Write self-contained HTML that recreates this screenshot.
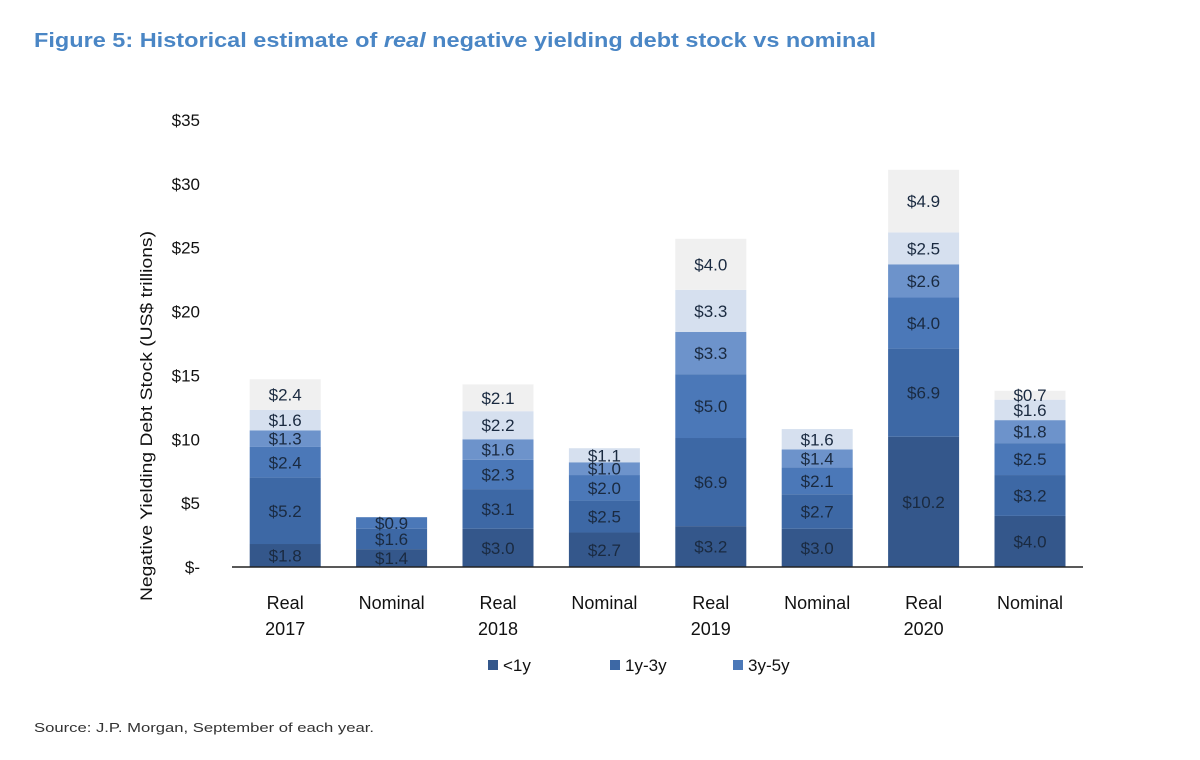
<!DOCTYPE html>
<html><head><meta charset="utf-8"><style>
body{margin:0;background:#fff;font-family:"Liberation Sans",Arial,sans-serif}
#wrap{position:relative;width:1200px;height:760px;overflow:hidden}
</style></head><body>
<div id="wrap">
<svg id="chart" width="1200" height="760">
<text x="34" y="47" font-size="20" font-weight="bold" fill="#4a86c5" textLength="842" lengthAdjust="spacingAndGlyphs">Figure 5: Historical estimate of <tspan font-style="italic">real</tspan> negative yielding debt stock vs nominal</text>
<text x="34" y="732" font-size="13" fill="#333" textLength="340" lengthAdjust="spacingAndGlyphs">Source: J.P. Morgan, September of each year.</text>
<text transform="translate(152,416) rotate(-90)" text-anchor="middle" font-size="17" fill="#111" textLength="370" lengthAdjust="spacingAndGlyphs">Negative Yielding Debt Stock (US$ trillions)</text>
<g id="plot"></g>
</svg>
</div>
<script>
const categories=[["Real","2017"],["Nominal",""],["Real","2018"],["Nominal",""],["Real","2019"],["Nominal",""],["Real","2020"],["Nominal",""]];
const seriesNames=["<1y","1y-3y","3y-5y","5y-7y","7y-10y","10y+"];
const s_lt1=[1.8,1.4,3.0,2.7,3.2,3.0,10.2,4.0];
const s_1to3=[5.2,1.6,3.1,2.5,6.9,2.7,6.9,3.2];
const s_3to5=[2.4,0.9,2.3,2.0,5.0,2.1,4.0,2.5];
const s_5to7=[1.3,0,1.6,1.0,3.3,1.4,2.6,1.8];
const s_7to10=[1.6,0,2.2,1.1,3.3,1.6,2.5,1.6];
const s_10p=[2.4,0,2.1,0,4.0,0,4.9,0.7];
const yTicks=[0,5,10,15,20,25,30,35];
const yTickLabels=["$-","$5","$10","$15","$20","$25","$30","$35"];
const series=[s_lt1,s_1to3,s_3to5,s_5to7,s_7to10,s_10p];
const colors=["#34578b","#3d68a5","#4b78b8","#6d93cb","#d6e0ef","#f0f0f0"];
const NS="http://www.w3.org/2000/svg";
const g=document.getElementById("plot");
const y=v=>567-v*(447/35);
const x0=232,step=106.4,bw=71;
const xc=i=>x0+step*(i+0.5);
function el(t,a){const e=document.createElementNS(NS,t);for(const k in a)e.setAttribute(k,a[k]);g.appendChild(e);return e;}
yTicks.forEach((v,i)=>{
  const t=el("text",{x:200,y:y(v)+6,"text-anchor":"end","font-size":17,fill:"#111"});
  
  
  t.textContent=yTickLabels[i];
});
categories.forEach((c,i)=>{
  let cum=0;
  series.forEach((s,k)=>{
    const v=s[i];if(!v)return;
    const r=el("rect",{x:xc(i)-bw/2,y:y(cum+v),width:bw,height:y(cum)-y(cum+v),fill:colors[k]});
    
    
    const t=el("text",{x:xc(i),y:(y(cum)+y(cum+v))/2+6,"text-anchor":"middle","font-size":17,fill:"#1a2a40"});
    
    
    t.textContent="$"+v.toFixed(1);
    cum+=v;
  });
  c.forEach((ln,j)=>{if(!ln)return;
    const t=el("text",{x:xc(i),y:609+j*26,"text-anchor":"middle","font-size":18,fill:"#111"});
    
    
    t.textContent=ln;});
});
const ax=el("line",{x1:232,x2:1083,y1:567,y2:567,stroke:"#222","stroke-width":1.5});


const lx=[488,610,733];
[0,1,2].forEach(k=>{
  const r=el("rect",{x:lx[k],y:660,width:10,height:10,fill:colors[k]});
  
  
  const t=el("text",{x:lx[k]+15,y:671,"font-size":17,fill:"#111"});
  
  
  t.textContent=seriesNames[k];
});
</script>
</body></html>
